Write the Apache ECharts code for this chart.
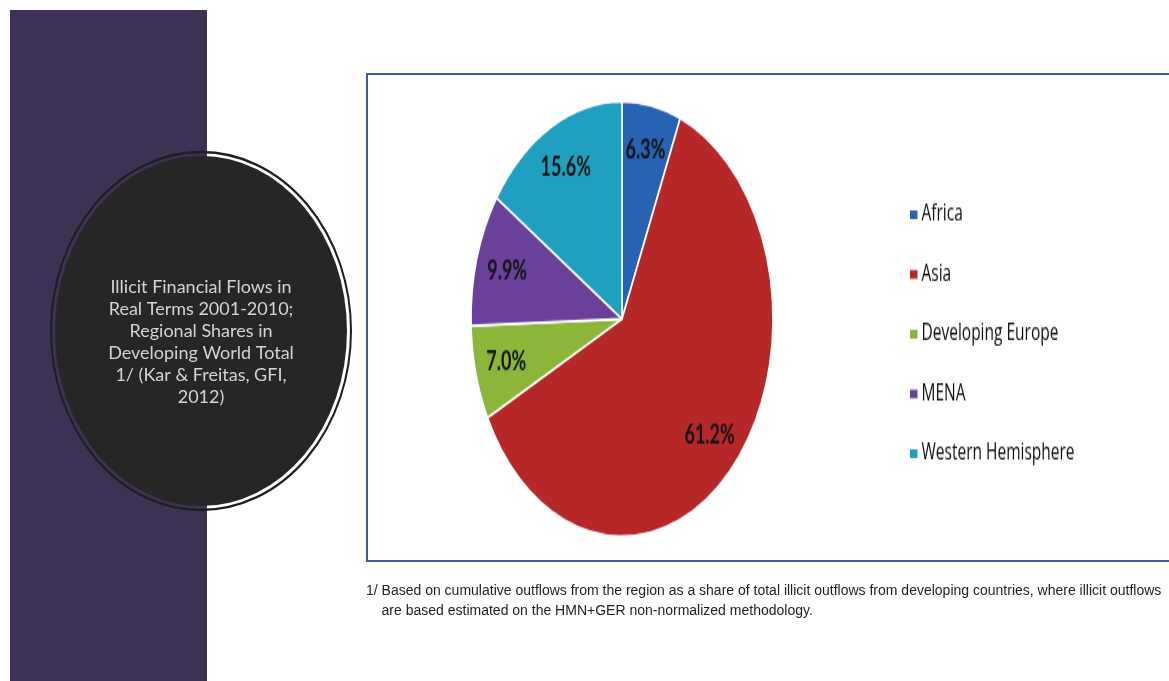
<!DOCTYPE html>
<html>
<head>
<meta charset="utf-8">
<script src="https://cdn.jsdelivr.net/npm/echarts@6/dist/echarts.min.js"></script>
<style>
html,body{margin:0;padding:0;background:#fff;}
#main{position:absolute;left:0;top:0;width:1169px;height:681px;}
#pie{position:absolute;left:368px;top:75px;width:800px;height:335.4px;transform:scaleY(1.44);transform-origin:0 0;}
</style>
</head>
<body>
<div id="main"></div>
<div id="pie"></div>
<script>
// ---- data ----
const categories = ['Africa', 'Asia', 'Developing Europe', 'MENA', 'Western Hemisphere'];
const shares = [6.3, 61.2, 7.0, 9.9, 15.6];
const colors = ['#2862b2', '#b62828', '#8cb63a', '#6a409a', '#20a0c0'];
const titleLines = [
  'Illicit Financial Flows in',
  'Real Terms 2001-2010;',
  'Regional Shares in',
  'Developing World Total',
  '1/ (Kar & Freitas, GFI,',
  '2012)'
];
const footnoteLines = [
  '1/ Based on cumulative outflows from the region as a share of total illicit outflows from developing countries, where illicit outflows',
  '    are based estimated on the HMN+GER non-normalized methodology.'
];

// ---- background slide ----
const main = echarts.init(document.getElementById('main'), null, {renderer: 'canvas'});
main.setOption({
  animation: false,
  graphic: [
    {type: 'rect', shape: {x: 10, y: 10, width: 197, height: 671}, style: {fill: '#3d3154'}},
    {type: 'circle', x: 201, y: 331, scaleX: 150 / 179, shape: {cx: 0, cy: 0, r: 179},
      style: {fill: 'none', stroke: '#1e1e1e', lineWidth: 2.4}},
    {type: 'circle', x: 201, y: 331, scaleX: 146 / 175, shape: {cx: 0, cy: 0, r: 175},
      style: {fill: '#262626'}},
    {type: 'text', x: 201, y: 342.5, style: {
      text: titleLines.join('\n'), fill: '#d4d4d4', font: '18px Lato, sans-serif',
      lineHeight: 22, align: 'center', verticalAlign: 'middle'}},
    {type: 'rect', shape: {x: 367, y: 74, width: 830, height: 487},
      style: {fill: 'none', stroke: '#3d5aa0', lineWidth: 2}},
    {type: 'text', x: 366, y: 601, style: {
      text: footnoteLines.join('\n'), fill: '#1e1e1e',
      font: '14px "Liberation Sans", Arial, sans-serif',
      lineHeight: 20, align: 'left', verticalAlign: 'middle'}}
  ]
});

// ---- pie (stretched vertically like the reference image) ----
const pie = echarts.init(document.getElementById('pie'), null, {renderer: 'canvas'});
const pieData = categories.map((c, i) => ({name: c, value: shares[i], itemStyle: {color: colors[i]}}));
pie.setOption({
  animation: false,
  legend: {
    orient: 'vertical', left: 537, top: 84, itemGap: 25.5,
    icon: 'rect', itemWidth: 7.5, itemHeight: 6, itemStyle: {borderWidth: 0},
    textStyle: {fontFamily: '"Open Sans", sans-serif', fontSize: 15.5, fontWeight: 500, color: '#0e0e0e', lineHeight: 16, padding: [0, 0, 0, -1]},
    data: categories
  },
  series: [
    {
      type: 'pie', center: [254, 169.4], radius: [0, 151], startAngle: 90, clockwise: true,
      data: pieData, label: {show: false}, labelLine: {show: false},
      itemStyle: {borderColor: '#ffffff', borderWidth: 1.6}, emphasis: {disabled: true}
    },
    {
      type: 'pie', center: [254, 169.4], radius: [82, 151], startAngle: 90, clockwise: true,
      data: categories.map((c, i) => ({name: c, value: shares[i]})),
      itemStyle: {color: 'rgba(0,0,0,0)'}, silent: true, legendHoverLink: false,
      label: {show: true, position: 'inside', formatter: (p) => p.value.toFixed(1) + '%',
        fontFamily: 'Lato, sans-serif', fontWeight: 'bold', fontSize: 18, color: '#141414'},
      labelLine: {show: false}, emphasis: {disabled: true}
    }
  ]
});
</script>
</body>
</html>
